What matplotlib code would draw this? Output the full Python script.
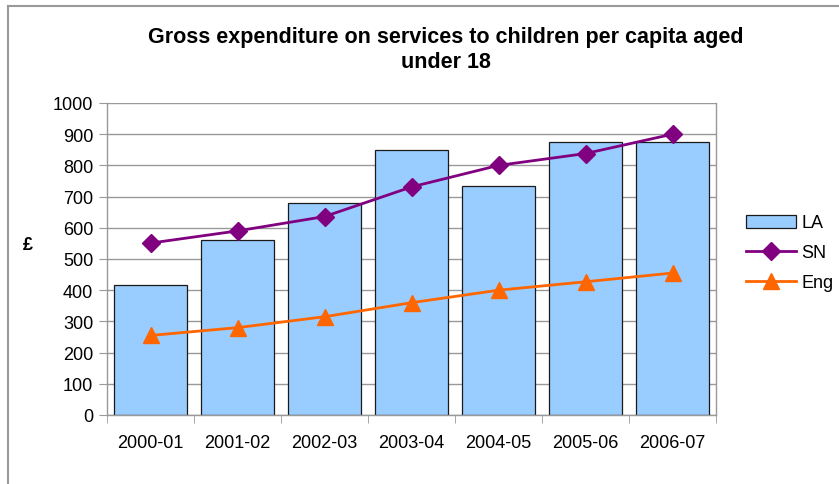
import matplotlib
matplotlib.use("Agg")
import matplotlib.pyplot as plt
from matplotlib.lines import Line2D
import numpy as np

years = ["2000-01", "2001-02", "2002-03", "2003-04", "2004-05", "2005-06", "2006-07"]
la = [417, 561, 679, 849, 734, 876, 874]
sn = [551, 590, 636, 731, 800, 838, 900]
eng = [255, 280, 315, 360, 400, 427, 455]
yticks = [0, 100, 200, 300, 400, 500, 600, 700, 800, 900, 1000]

plt.rcParams['font.family'] = ['Liberation Sans', 'DejaVu Sans']

fig = plt.figure(figsize=(8.39, 4.85), dpi=100)
ax = fig.add_axes([107/839, 1-416/485, (716-107)/839, (416-104)/485])

x = np.arange(len(years))
b = ax.bar(x, la, width=0.83, color='#99CCFF', edgecolor='#1a1a1a', linewidth=0.9, label='LA', zorder=2)
l1, = ax.plot(x, sn, color='#800080', marker='D', markersize=9, linewidth=2, label='SN', zorder=3)
l2, = ax.plot(x, eng, color='#FF6600', marker='^', markersize=11, linewidth=2, label='Eng', zorder=3)

ax.set_xlim(-0.5, len(years)-0.5)
ax.set_ylim(0, 1000)
ax.set_yticks(yticks)
ax.set_yticklabels([str(v) for v in yticks])
ax.yaxis.grid(True, color='#999999', linewidth=1)
ax.set_axisbelow(True)

ax.set_xticks(x)
ax.set_xticklabels(years)
ax.set_xticks(np.arange(-0.5, len(years)), minor=True)
ax.tick_params(axis='x', which='major', length=0, pad=14, labelsize=13)
ax.tick_params(axis='x', which='minor', length=6, color='#999999', direction='out')
ax.tick_params(axis='y', length=6, color='#999999', labelsize=13, pad=4)

for s in ['left', 'bottom', 'top', 'right']:
    ax.spines[s].set_color('#999999')
    ax.spines[s].set_linewidth(1)
ax.spines['top'].set_visible(False)

ax.set_ylabel('£', fontsize=13, fontweight='bold', rotation=0, labelpad=0)
ax.yaxis.set_label_coords(-0.13, 0.52)

fig.text(446/839, 1-50/485, "Gross expenditure on services to children per capita aged\nunder 18",
         ha='center', va='center', fontsize=15.5, fontweight='bold', linespacing=1.3)

leg = fig.legend([b, l1, l2], ['LA', 'SN', 'Eng'], loc='center left', bbox_to_anchor=(733/839, 1-254/485),
                 frameon=False, fontsize=13, handlelength=2.8, labelspacing=0.72, handletextpad=0.3,
                 borderpad=0.2)

# outer chart border
fig.add_artist(Line2D([8/839, 8/839], [0, 1-7/485], color='#999999', linewidth=1.5))
fig.add_artist(Line2D([8/839, 1], [1-7/485, 1-7/485], color='#999999', linewidth=1.5))

fig.savefig('out.png', dpi=100)
